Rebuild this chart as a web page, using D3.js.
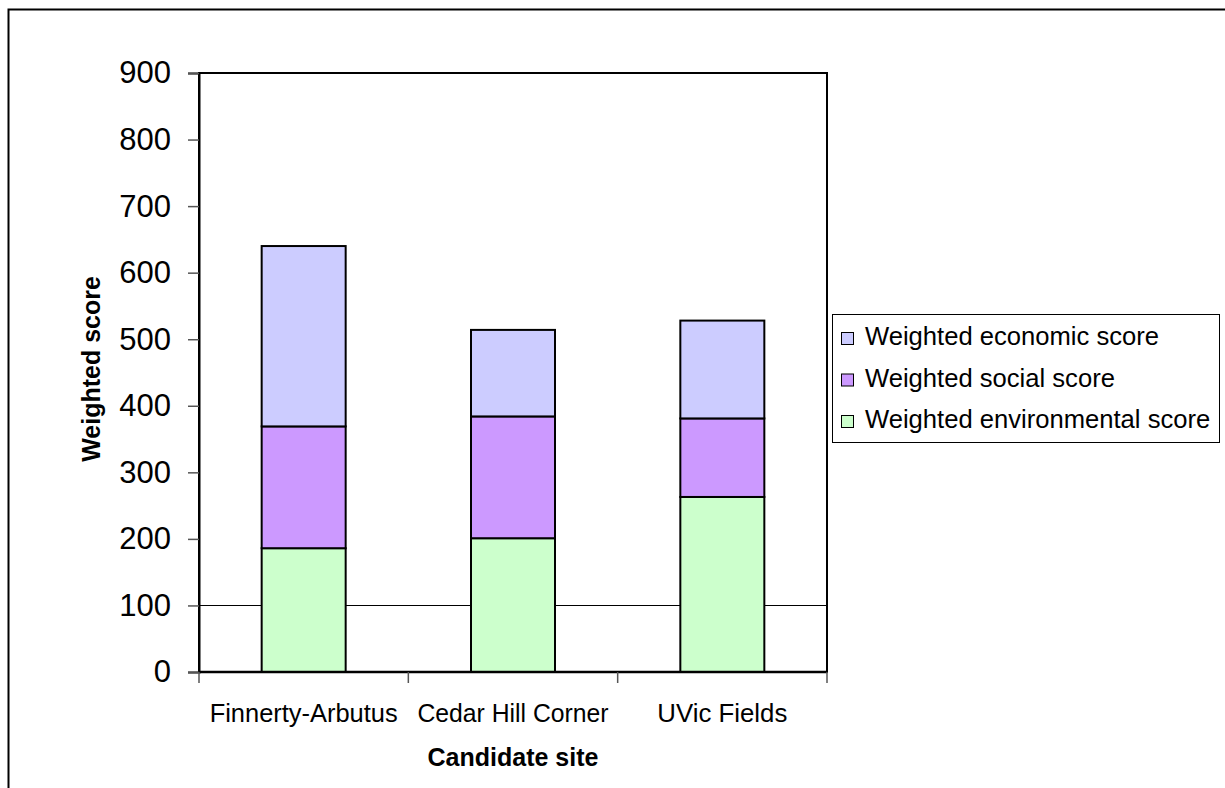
<!DOCTYPE html>
<html>
<head>
<meta charset="utf-8">
<script src="https://cdn.jsdelivr.net/npm/d3@7"></script>
<style>
  html, body { margin: 0; padding: 0; background: #fff; }
  svg { display: block; font-family: "Liberation Sans", Arial, sans-serif; }
</style>
</head>
<body>
<svg id="chart" width="1225" height="788"></svg>
<script>
// Candidate sites and their weighted scores, stacked bottom to top
const sites = ["Finnerty-Arbutus", "Cedar Hill Corner", "UVic Fields"];
const environmental = [186, 201, 263];
const social = [183, 183, 118];
const economic = [271, 130, 147];
const yTicks = [0, 100, 200, 300, 400, 500, 600, 700, 800, 900];
const gridValues = [100];

const seriesNames = ["Weighted environmental score", "Weighted social score", "Weighted economic score"];
const seriesColors = ["#CCFFCC", "#CC99FF", "#CCCCFF"];
const seriesValues = [environmental, social, economic];

const svg = d3.select("#chart");

// Outer chart frame
svg.append("path")
  .attr("d", "M8.5,788 L8.5,9.5 L1225,9.5")
  .attr("fill", "none").attr("stroke", "#000").attr("stroke-width", 2);

const plot = { left: 199, right: 827, top: 73, bottom: 672 };

const x = d3.scaleBand().domain(sites).range([plot.left, plot.right]).paddingInner(0).paddingOuter(0);
const y = d3.scaleLinear().domain([0, 900]).range([plot.bottom, plot.top]);

// Plot area frame
svg.append("rect")
  .attr("x", plot.left).attr("y", plot.top)
  .attr("width", plot.right - plot.left).attr("height", plot.bottom - plot.top)
  .attr("fill", "#fff").attr("stroke", "#000").attr("stroke-width", 2);

// Gridlines
svg.append("g").selectAll("line").data(gridValues).join("line")
  .attr("x1", plot.left).attr("x2", plot.right)
  .attr("y1", d => Math.round(y(d)) + 0.5).attr("y2", d => Math.round(y(d)) + 0.5)
  .attr("stroke", "#000").attr("stroke-width", 1);

// Stacked bars
const table = sites.map((s, i) => {
  const row = { site: s };
  seriesNames.forEach((n, k) => { row[n] = seriesValues[k][i]; });
  return row;
});
const stack = d3.stack().keys(seriesNames)(table);
const barWidth = 84;
svg.append("g").selectAll("g").data(stack).join("g")
  .attr("fill", (d, i) => seriesColors[i])
  .selectAll("rect").data(d => d).join("rect")
  .attr("x", d => x(d.data.site) + x.bandwidth() / 2 - barWidth / 2)
  .attr("y", d => y(d[1]))
  .attr("width", barWidth)
  .attr("height", d => y(d[0]) - y(d[1]))
  .attr("stroke", "#000").attr("stroke-width", 2);

// Y axis
const yAxis = svg.append("g").attr("transform", `translate(${plot.left},0)`)
  .call(d3.axisLeft(y).tickValues(yTicks).tickSize(11).tickPadding(17));
yAxis.select(".domain").attr("stroke", "#000").attr("stroke-width", 2);
yAxis.selectAll(".tick line").attr("stroke", "#555").attr("stroke-width", 1.5);
yAxis.selectAll("text").attr("font-size", 31).attr("fill", "#000")
  .attr("font-family", "Liberation Sans, Arial, sans-serif");

// X axis: tick marks at category boundaries
const bounds = sites.map(s => x(s)).concat([plot.right]);
const xAxis = svg.append("g");
xAxis.append("line")
  .attr("x1", plot.left).attr("x2", plot.right)
  .attr("y1", plot.bottom).attr("y2", plot.bottom)
  .attr("stroke", "#000").attr("stroke-width", 2.5);
xAxis.selectAll("line.tick").data(bounds).join("line").attr("class", "tick")
  .attr("x1", d => d).attr("x2", d => d)
  .attr("y1", plot.bottom).attr("y2", plot.bottom + 11)
  .attr("stroke", "#555").attr("stroke-width", 1.5);
xAxis.selectAll("text").data(sites).join("text")
  .attr("x", d => x(d) + x.bandwidth() / 2)
  .attr("y", 722)
  .attr("text-anchor", "middle")
  .attr("font-size", 25)
  .attr("textLength", (d, i) => [188, 191, 130][i])
  .attr("lengthAdjust", "spacingAndGlyphs")
  .text(d => d);

// Axis titles
svg.append("text")
  .attr("x", 513).attr("y", 766)
  .attr("text-anchor", "middle").attr("font-size", 25).attr("font-weight", "bold")
  .text("Candidate site");
svg.append("text")
  .attr("transform", "translate(100,369) rotate(-90)")
  .attr("text-anchor", "middle").attr("font-size", 25).attr("font-weight", "bold")
  .text("Weighted score");

// Legend
const legend = svg.append("g");
legend.append("rect")
  .attr("x", 832.5).attr("y", 314.5).attr("width", 387).attr("height", 128)
  .attr("fill", "#fff").attr("stroke", "#000").attr("stroke-width", 1);
const legendOrder = [2, 1, 0];
const rows = legend.selectAll("g.item").data(legendOrder).join("g").attr("class", "item")
  .attr("transform", (d, i) => `translate(0,${345 + i * 41.5})`);
rows.append("rect")
  .attr("x", 841.5).attr("y", -12.5).attr("width", 12).attr("height", 12)
  .attr("fill", d => seriesColors[d]).attr("stroke", "#000").attr("stroke-width", 1);
rows.append("text")
  .attr("x", 865).attr("y", 0)
  .attr("font-size", 25.6)
  .text(d => seriesNames[d]);
</script>
</body>
</html>
